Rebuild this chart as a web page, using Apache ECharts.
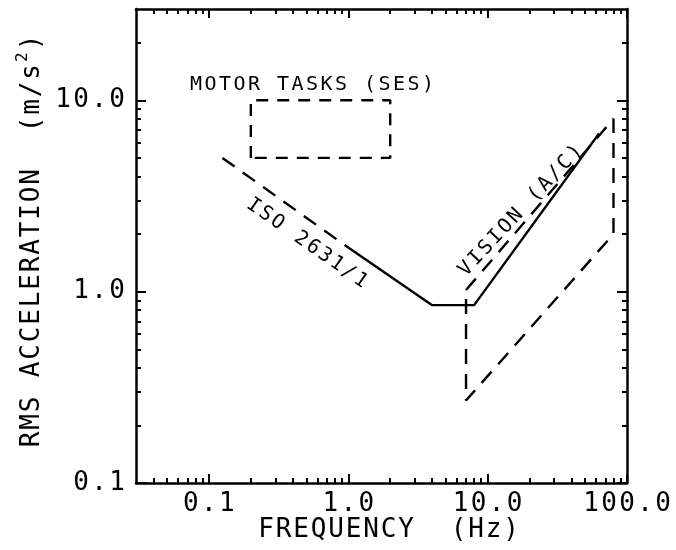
<!DOCTYPE html>
<html>
<head>
<meta charset="utf-8">
<script src="https://cdn.jsdelivr.net/npm/echarts@6/dist/echarts.min.js"></script>
<style>
  html, body { margin: 0; padding: 0; background: #fff; }
  #chart { width: 676px; height: 550px; }
</style>
</head>
<body>
<div id="chart"></div>
<script>
// Frequency (Hz) vs RMS acceleration (m/s^2), both logarithmic.

// ISO 2631/1 boundary: dashed extrapolation below 1 Hz, solid from 1 Hz up
const isoExtrapolated = [[0.125, 5.0], [1.0, 1.7]];
const isoBoundary = [[1.0, 1.7], [4.0, 0.85], [8.0, 0.85], [63, 6.7]];

// Motor tasks (SES) rectangle
const motorTasksBox = [[0.2, 5], [0.2, 10], [2, 10], [2, 5], [0.2, 5]];

// Vision (A/C) region outline
const visionRegion = [[7, 1.02], [80, 8], [80, 2], [7, 0.27], [7, 1.02]];

// Axis ranges and ticks
const xMin = 0.03, xMax = 100;
const yMin = 0.1, yMax = 30;
const xMajor = [0.1, 1, 10, 100];
const xTickLabels = ['0.1', '1.0', '10.0', '100.0'];
const xMinor = [0.04, 0.05, 0.06, 0.07, 0.08, 0.09,
                0.2, 0.3, 0.4, 0.5, 0.6, 0.7, 0.8, 0.9,
                2, 3, 4, 5, 6, 7, 8, 9,
                20, 30, 40, 50, 60, 70, 80, 90];
const yMajor = [0.1, 1, 10];
const yTickLabels = ['0.1', '1.0', '10.0'];
const yMinor = [0.2, 0.3, 0.4, 0.5, 0.6, 0.7, 0.8, 0.9,
                2, 3, 4, 5, 6, 7, 8, 9,
                20];

// Text annotations, anchored in data coordinates
const annotations = [
  { text: 'MOTOR TASKS (SES)', at: [0.55, 12.0], angle: 0 },
  { text: 'ISO 2631/1', at: [0.505, 1.79], angle: -35 },
  { text: 'VISION (A/C)', at: [17.3, 2.65], angle: 47 }
];

const FONT = '"DejaVu Sans Mono", monospace';
const INK = '#000';

// Plotter-style lettering: every character sits in a fixed-width cell
function cells(text, key) {
  return text.split('').map(function (ch) { return '{' + key + '|' + ch + '}'; }).join('');
}

function labelFor(values, labels) {
  return function (v) {
    for (let i = 0; i < values.length; i++) {
      if (Math.abs(Math.log10(values[i]) - Math.log10(v)) < 1e-6) return cells(labels[i], 't');
    }
    return '';
  };
}

const tickRich = {
  t: { width: 18, align: 'center', fontSize: 26, lineHeight: 26, fontFamily: FONT, color: INK }
};
const nameRich = {
  n: { width: 17.5, align: 'center', fontSize: 26, lineHeight: 34, fontFamily: FONT, color: INK },
  sup: { width: 12, align: 'center', fontSize: 16, lineHeight: 14, verticalAlign: 'top', fontFamily: FONT, color: INK }
};

const frameLine = { show: true, lineStyle: { color: INK, width: 2.5 } };
function ticks(values, len) {
  return { show: true, inside: true, length: len, customValues: values, lineStyle: { color: INK, width: 2 } };
}

function logAxis(dim, extra) {
  const base = {
    type: 'log', logBase: 10,
    min: dim === 'x' ? xMin : yMin,
    max: dim === 'x' ? xMax : yMax,
    axisLine: { show: false },
    axisLabel: { show: false },
    splitLine: { show: false },
    minorTick: { show: false },
    axisPointer: { show: false },
    silent: true
  };
  return Object.assign(base, extra);
}

function pathSeries(name, data, dash) {
  return {
    name: name, type: 'line', data: data,
    xAxisIndex: 0, yAxisIndex: 0,
    symbol: 'none', showSymbol: false, silent: true,
    lineStyle: { color: INK, width: 2.4, type: dash },
    z: 3
  };
}

const chart = echarts.init(document.getElementById('chart'));

chart.setOption({
  animation: false,
  backgroundColor: '#fff',
  grid: { left: 136, right: 49, top: 9, bottom: 67, containLabel: false, outerBoundsMode: 'none' },
  xAxis: [
    logAxis('x', {
      position: 'bottom',
      axisLine: frameLine,
      axisTick: ticks(xMajor, 9),
      axisLabel: { show: true, customValues: xMajor, formatter: labelFor(xMajor, xTickLabels), margin: 8, rich: tickRich },
      name: cells('FREQUENCY  (Hz)', 'n'),
      nameLocation: 'middle',
      nameGap: 30,
      nameMoveOverlap: false,
      nameTextStyle: { rich: nameRich, padding: [0, 0, 0, 14] }
    }),
    logAxis('x', { position: 'bottom', axisTick: ticks(xMinor, 5) }),
    logAxis('x', { position: 'top', axisLine: frameLine, axisTick: ticks(xMajor, 9) }),
    logAxis('x', { position: 'top', axisTick: ticks(xMinor, 5) })
  ],
  yAxis: [
    logAxis('y', {
      position: 'left',
      axisLine: frameLine,
      axisTick: ticks(yMajor, 10),
      axisLabel: { show: true, customValues: yMajor, formatter: labelFor(yMajor, yTickLabels), margin: 10, rich: tickRich },
      name: cells('RMS ACCELERATION  (m/s', 'n') + '{sup|2}' + '{n|)}',
      nameLocation: 'middle',
      nameRotate: 90,
      nameGap: 87,
      nameMoveOverlap: false,
      nameTextStyle: { rich: nameRich, padding: [0, 0, 0, 10] }
    }),
    logAxis('y', { position: 'left', axisTick: ticks(yMinor, 5) }),
    logAxis('y', { position: 'right', axisLine: frameLine, axisTick: ticks(yMajor, 10) }),
    logAxis('y', { position: 'right', axisTick: ticks(yMinor, 5) })
  ],
  series: [
    pathSeries('ISO 2631/1 (extrapolated)', isoExtrapolated, [15, 10]),
    pathSeries('ISO 2631/1', isoBoundary, 'solid'),
    pathSeries('Motor tasks (SES)', motorTasksBox, [12, 9]),
    pathSeries('Vision (A/C)', visionRegion, [15, 10])
  ]
});

// Place the lettering once the axes exist
const annRich = {
  a: { width: 14.5, align: 'center', fontSize: 20, fontFamily: FONT, fill: INK }
};
chart.setOption({
  graphic: annotations.map(function (a) {
    const p = chart.convertToPixel({ xAxisIndex: 0, yAxisIndex: 0 }, a.at);
    return {
      type: 'text', x: p[0], y: p[1], rotation: a.angle * Math.PI / 180, silent: true, z: 10,
      style: {
        text: cells(a.text, 'a'), rich: annRich,
        align: 'center', verticalAlign: 'middle',
        fill: INK, fontSize: 20, fontFamily: FONT
      }
    };
  })
});
</script>
</body>
</html>
